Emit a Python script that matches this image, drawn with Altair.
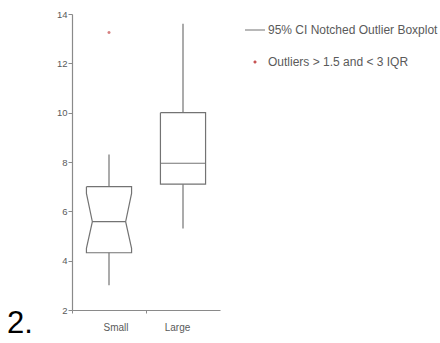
import altair as alt
import pandas as pd

# Box summary per group
categories = ["Small", "Large"]
whisker_low = [3.0, 5.3]
q1 = [4.32, 7.1]
median = [5.58, 7.95]
q3 = [7.0, 10.0]
whisker_high = [8.3, 13.6]
notch_low = [4.5, 7.1]
notch_high = [6.73, 10.0]

# Points beyond the whiskers
outlier_group = ["Small"]
outlier_value = [13.25]

series_names = ["95% CI Notched Outlier Boxplot", "Outliers > 1.5 and < 3 IQR"]

LINE = "#737373"
RED = "#c44a4a"
TEXT = "#5a5a5a"
FONT = "Liberation Sans"

HALF_W = 0.305   # half box width, in x units (one unit per group)
WAIST = 0.225    # half width at the notch waist

# Outline of each (possibly notched) box, traced as a closed polygon
outline_rows = []
median_rows = []
whisker_rows = []
for i, cat in enumerate(categories):
    c = i + 0.5
    notched = notch_low[i] > q1[i] and notch_high[i] < q3[i]
    w = WAIST if notched else HALF_W
    pts = [
        (c - HALF_W, q3[i]),
        (c - HALF_W, notch_high[i]),
        (c - w, median[i]),
        (c - HALF_W, notch_low[i]),
        (c - HALF_W, q1[i]),
        (c + HALF_W, q1[i]),
        (c + HALF_W, notch_low[i]),
        (c + w, median[i]),
        (c + HALF_W, notch_high[i]),
        (c + HALF_W, q3[i]),
        (c - HALF_W, q3[i]),
    ]
    for k, (x, y) in enumerate(pts):
        outline_rows.append({"group": cat, "k": k, "x": x, "y": y})
    median_rows.append({"group": cat, "x": c - w, "x2": c + w, "y": median[i]})
    whisker_rows.append({"group": cat, "x": c, "y": q3[i], "y2": whisker_high[i]})
    whisker_rows.append({"group": cat, "x": c, "y": q1[i], "y2": whisker_low[i]})

outline = pd.DataFrame(outline_rows)
medians = pd.DataFrame(median_rows)
whiskers = pd.DataFrame(whisker_rows)
outliers = pd.DataFrame({
    "x": [categories.index(g) + 0.5 for g in outlier_group],
    "y": outlier_value,
})
legend_df = pd.DataFrame({"series": series_names})

x_scale = alt.Scale(domain=[0, 2], nice=False, zero=False)
y_scale = alt.Scale(domain=[2, 14], nice=False, zero=False)

label_expr = " : ".join(
    [f"datum.value == {i} ? '{c}'" for i, c in enumerate(categories)] + ["''"]
)

x_axis = alt.Axis(
    values=[0, 1], labelExpr=label_expr, labelOffset=31, title=None,
    tickSize=3, labelPadding=9, labelFontSize=10, grid=False,
)
y_axis = alt.Axis(values=list(range(2, 15, 2)), title=None, tickSize=4,
                  labelPadding=1, labelFontSize=9.5, grid=False)

cross_path = "M-0.15,0H0.15M0,-0.15V0.15"
line_path = "M-1,0H1"

boxes = alt.Chart(outline).mark_line(color=LINE, strokeWidth=1.2).encode(
    x=alt.X("x:Q", scale=x_scale, axis=x_axis),
    y=alt.Y("y:Q", scale=y_scale, axis=y_axis),
    detail="group:N",
    order="k:Q",
)

median_lines = alt.Chart(medians).mark_rule(color=LINE, strokeWidth=1.2).encode(
    x="x:Q", x2="x2:Q", y="y:Q",
)

whisker_lines = alt.Chart(whiskers).mark_rule(color=LINE, strokeWidth=1.2).encode(
    x="x:Q", y="y:Q", y2="y2:Q",
)

outlier_pts = alt.Chart(outliers).mark_point(
    shape=cross_path, size=400, color=RED, strokeWidth=1.5, filled=False,
).encode(x="x:Q", y="y:Q")

legend_layer = alt.Chart(legend_df).mark_point(filled=False, size=400, opacity=0).encode(
    x=alt.value(0), y=alt.value(0),
    color=alt.Color(
        "series:N",
        scale=alt.Scale(domain=series_names, range=["#a0a0a0", RED]),
        legend=alt.Legend(
            title=None, orient="none", legendX=172, legendY=5,
            labelFontSize=12, labelColor=TEXT, labelFont=FONT,
            labelOffset=2, rowPadding=15, symbolSize=400,
            symbolStrokeWidth=1.5, symbolOpacity=1, labelLimit=400,
        ),
    ),
    shape=alt.Shape(
        "series:N",
        scale=alt.Scale(domain=series_names, range=[line_path, cross_path]),
        legend=None,
    ),
)

panel_tag = alt.Chart(pd.DataFrame({"t": ["2."]})).mark_text(
    align="left", baseline="alphabetic", fontSize=31, font=FONT, color="black",
).encode(x=alt.value(-65), y=alt.value(319), text="t:N")

chart = alt.layer(
    boxes, median_lines, whisker_lines, outlier_pts, legend_layer, panel_tag
).properties(
    width=148, height=296,
    background="white",
    autosize=alt.AutoSizeParams(type="none"),
    padding={"left": 72, "top": 14, "right": 220, "bottom": 33},
).configure_view(stroke=None).configure_axis(
    domainColor="#8a8a8a", tickColor="#8a8a8a", labelColor=TEXT,
    labelFont=FONT, grid=False, domainWidth=1.2,
)

chart.save("out.html", embed_options={"renderer": "svg", "actions": False})
